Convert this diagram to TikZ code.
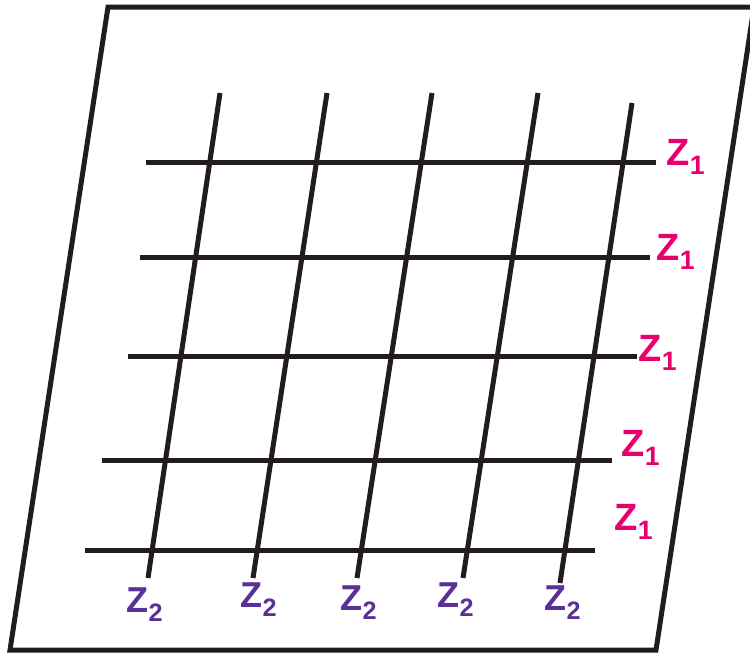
\documentclass[tikz,border=0pt]{standalone}
\usepackage{fontspec}
\setmainfont{Liberation Sans}
\definecolor{zpink}{RGB}{232,0,108}
\definecolor{zpurple}{RGB}{88,48,150}
\definecolor{ink}{RGB}{35,28,28}
\tikzset{
  gridline/.style={line width=5pt, ink},
  frame/.style={line width=5pt, ink, line join=miter},
  zone/.style={text=zpink, font=\bfseries\fontsize{38}{42}\selectfont, inner sep=0pt},
  ztwo/.style={text=zpurple, font=\bfseries\fontsize{36}{40}\selectfont, inner sep=0pt},
}
\begin{document}
\begin{tikzpicture}[x=1pt,y=-1pt]
\useasboundingbox (0,0) rectangle (750,654);
% frame
\coordinate (p1) at (108,7);
\coordinate (p2) at (754,7);
\coordinate (p3) at (656,650);
\coordinate (p4) at (10,650);
\draw[frame] (p1) -- (p2) -- (p3) -- (p4) -- cycle;
% horizontal lines
\foreach \i/\xl/\xr/\y in {1/146/656/162, 2/140/650/257, 3/128/637/356, 4/102/612/460, 5/85/595/550}{
  \coordinate (hL\i) at (\xl,\y);
  \coordinate (hR\i) at (\xr,\y);
  \draw[gridline] (hL\i) -- (hR\i);
}
% slanted lines
\foreach \i/\xt/\yt/\xb/\yb in {1/220/93/148/578, 2/327/93/253/578, 3/432/93/357/578, 4/538/93/463/578, 5/632/103/560/583}{
  \coordinate (vT\i) at (\xt,\yt);
  \coordinate (vB\i) at (\xb,\yb);
  \draw[gridline] (vT\i) -- (vB\i);
}
% labels
\node[zone] (a1) at (686,157) {Z\textsubscript{1}};
\node[zone] (a2) at (676,252) {Z\textsubscript{1}};
\node[zone] (a3) at (658,353) {Z\textsubscript{1}};
\node[zone] (a4) at (641,448) {Z\textsubscript{1}};
\node[zone] (a5) at (634,522) {Z\textsubscript{1}};
\node[ztwo] (b1) at (145,605) {Z\textsubscript{2}};
\node[ztwo] (b2) at (259,600) {Z\textsubscript{2}};
\node[ztwo] (b3) at (359,603) {Z\textsubscript{2}};
\node[ztwo] (b4) at (456,600) {Z\textsubscript{2}};
\node[ztwo] (b5) at (563,603) {Z\textsubscript{2}};
\end{tikzpicture}
\end{document}
